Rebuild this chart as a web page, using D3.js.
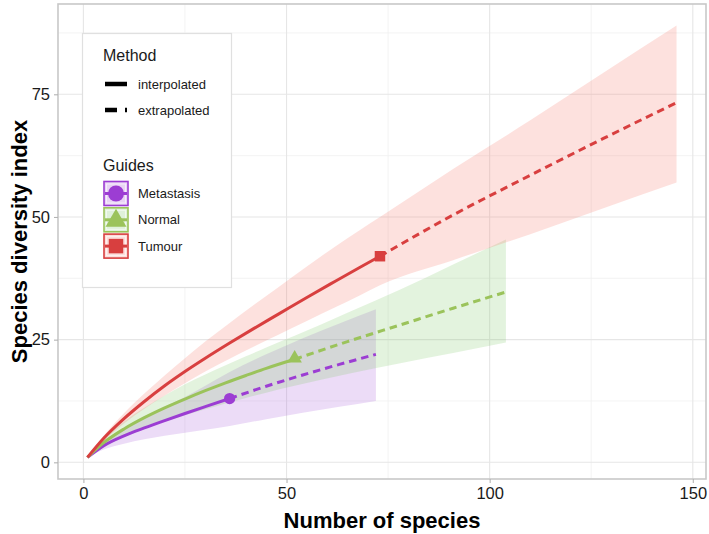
<!DOCTYPE html>
<html><head><meta charset="utf-8">
<script src="https://cdn.jsdelivr.net/npm/d3@7"></script>
<style>body{margin:0;background:#fff}svg{display:block}text{font-family:"Liberation Sans",Arial,sans-serif}</style>
</head><body><svg id="c" width="709" height="534"></svg>
<script>
// ---- data ----
const seriesNames = ["Metastasis", "Normal", "Tumour"];
const seriesColors = ["#9c3dd3", "#9bc35b", "#d83f3f"];
const ribbonColors = ["#a24fd6", "#7fc86a", "#f4776a"];
const methodNames = ["interpolated", "extrapolated"];
const xTicks = [0, 50, 100, 150];
const yTicks = [0, 25, 50, 75];

const metObs = 36;
const metM   = [1, 5, 10, 15, 20, 25, 30, 36, 45, 54, 63, 72];
const metEst = [1, 3.4, 5.4, 7.0, 8.5, 9.95, 11.35, 13.0, 15.5, 17.8, 19.95, 22.0];
const metLo  = [1, 2.6, 3.8, 4.7, 5.4, 6.05, 6.65, 7.4, 8.8, 10.1, 11.3, 12.5];
const metHi  = [1, 4.2, 7.0, 9.2, 11.3, 13.3, 15.6, 18.4, 22.0, 25.3, 28.3, 31.2];

const norObs = 52;
const norM   = [1, 5, 10, 15, 20, 25, 30, 35, 40, 45, 52, 65, 78, 91, 104];
const norEst = [1, 4.0, 6.8, 9.1, 11.1, 12.9, 14.6, 16.2, 17.7, 19.15, 21.0, 24.6, 28.0, 31.4, 34.7];
const norLo  = [1, 3.0, 5.2, 6.8, 8.3, 9.6, 10.8, 12.0, 13.1, 14.2, 15.6, 18.0, 20.2, 22.3, 24.4];
const norHi  = [1, 4.9, 8.3, 11.1, 13.6, 15.9, 17.9, 19.8, 21.6, 23.4, 25.8, 30.5, 35.2, 40.3, 45.4];

const tumObs = 73;
const tumM   = [1, 5, 10, 15, 20, 25, 30, 36, 42, 48, 55, 62, 68, 73, 91, 110, 128, 146];
const tumEst = [1, 4.9, 8.9, 12.4, 15.6, 18.5, 21.2, 24.3, 27.3, 30.2, 33.6, 36.9, 39.7, 42.0, 50.4, 58.5, 66.0, 73.3];
const tumLo  = [1, 4.4, 7.9, 10.9, 13.6, 16.1, 18.5, 21.1, 23.6, 26.0, 28.8, 31.6, 34.0, 36.1, 41.2, 46.5, 51.8, 57.0];
const tumHi  = [1, 5.4, 10.0, 14.0, 17.7, 21.2, 24.6, 28.4, 32.1, 35.7, 39.9, 44.0, 47.3, 50.0, 59.8, 69.7, 79.4, 89.0];

const series = [
  {name: seriesNames[0], color: seriesColors[0], fill: ribbonColors[0], obs: metObs, m: metM, est: metEst, lo: metLo, hi: metHi, shape: "circle"},
  {name: seriesNames[1], color: seriesColors[1], fill: ribbonColors[1], obs: norObs, m: norM, est: norEst, lo: norLo, hi: norHi, shape: "triangle"},
  {name: seriesNames[2], color: seriesColors[2], fill: ribbonColors[2], obs: tumObs, m: tumM, est: tumEst, lo: tumLo, hi: tumHi, shape: "square"}
];

// ---- layout ----
const svg = d3.select("#c");
const P = {l: 58, r: 706, t: 4, b: 479};
const x = d3.scaleLinear().domain([-6.25, 153.25]).range([P.l, P.r]);
const y = d3.scaleLinear().domain([-3.4, 93.4]).range([P.b, P.t]);

// grid
const g = svg.append("g");
const xMinor = [25, 75, 125], yMinor = [12.5, 37.5, 62.5, 87.5];
g.selectAll(".xm").data(xMinor).join("line").attr("x1", d => x(d)).attr("x2", d => x(d)).attr("y1", P.t).attr("y2", P.b).attr("stroke", "#f0f0f0").attr("stroke-width", 0.8);
g.selectAll(".ym").data(yMinor).join("line").attr("y1", d => y(d)).attr("y2", d => y(d)).attr("x1", P.l).attr("x2", P.r).attr("stroke", "#f0f0f0").attr("stroke-width", 0.8);
g.selectAll(".xg").data(xTicks).join("line").attr("x1", d => x(d)).attr("x2", d => x(d)).attr("y1", P.t).attr("y2", P.b).attr("stroke", "#e6e6e6").attr("stroke-width", 1.1);
g.selectAll(".yg").data(yTicks).join("line").attr("y1", d => y(d)).attr("y2", d => y(d)).attr("x1", P.l).attr("x2", P.r).attr("stroke", "#e6e6e6").attr("stroke-width", 1.1);

// ribbons
const area = d3.area().x(d => x(d.m)).y0(d => y(d.lo)).y1(d => y(d.hi)).curve(d3.curveMonotoneX);
series.forEach(s => {
  const pts = s.m.map((m, i) => ({m, lo: s.lo[i], hi: s.hi[i]}));
  svg.append("path").attr("d", area(pts)).attr("fill", s.fill).attr("fill-opacity", s.shape === "circle" ? 0.2 : 0.22);
});

// lines
const line = d3.line().x(d => x(d.m)).y(d => y(d.v)).curve(d3.curveMonotoneX);
series.forEach(s => {
  const pts = s.m.map((m, i) => ({m, v: s.est[i]}));
  const interp = pts.filter(p => p.m <= s.obs);
  const extrap = pts.filter(p => p.m >= s.obs);
  svg.append("path").attr("d", line(extrap)).attr("fill", "none").attr("stroke", s.color).attr("stroke-width", 3).attr("stroke-dasharray", "7.5,5");
  svg.append("path").attr("d", line(interp)).attr("fill", "none").attr("stroke", s.color).attr("stroke-width", 3);
});

function shapePath(shape, size) {
  const sym = shape === "circle" ? d3.symbolCircle : shape === "triangle" ? d3.symbolTriangle : d3.symbolSquare;
  return d3.symbol().type(sym).size(size)();
}
// observed points
series.forEach(s => {
  const i = s.m.indexOf(s.obs);
  const sz = s.shape === "circle" ? 100 : s.shape === "triangle" ? 90 : 110;
  svg.append("path").attr("d", shapePath(s.shape, sz))
    .attr("transform", `translate(${x(s.m[i])},${y(s.est[i]) + (s.shape === "triangle" ? -1 : 0)})`)
    .attr("fill", s.color);
});

// panel border
svg.append("rect").attr("x", P.l).attr("y", P.t).attr("width", P.r - P.l).attr("height", P.b - P.t)
  .attr("fill", "none").attr("stroke", "#c8c8c8").attr("stroke-width", 1.6);

// axes
const xa = svg.append("g").attr("transform", `translate(0,${P.b})`).call(d3.axisBottom(x).tickValues(xTicks).tickSize(4).tickPadding(4));
const ya = svg.append("g").attr("transform", `translate(${P.l},0)`).call(d3.axisLeft(y).tickValues(yTicks).tickSize(4).tickPadding(4));
[xa, ya].forEach(a => {
  a.select(".domain").remove();
  a.selectAll(".tick line").attr("stroke", "#b3b3b3").attr("stroke-width", 1.1);
  a.selectAll(".tick text").attr("fill", "#1a1a1a").style("font-size", "16.5px").style("font-family", "Liberation Sans, Arial, sans-serif");
});

svg.append("text").attr("x", (P.l + P.r) / 2).attr("y", 528).attr("text-anchor", "middle")
  .style("font-size", "22px").style("font-weight", "bold").text("Number of species");
svg.append("text").attr("transform", `translate(27,${(P.t + P.b) / 2}) rotate(-90)`).attr("text-anchor", "middle")
  .style("font-size", "22px").style("font-weight", "bold").text("Species diversity index");

// legend
const L = svg.append("g");
L.append("rect").attr("x", 82.5).attr("y", 33.5).attr("width", 149).attr("height", 254).attr("fill", "#fff").attr("stroke", "#e0e0e0").attr("stroke-width", 1.2);
L.append("text").attr("x", 103).attr("y", 61).style("font-size", "16px").attr("fill", "#1a1a1a").text("Method");
const dashes = ["none", "12,8"];
methodNames.forEach((mname, i) => {
  const yy = 84 + i * 26;
  L.append("line").attr("x1", 105).attr("x2", 127).attr("y1", yy).attr("y2", yy).attr("stroke", "#000").attr("stroke-width", 4.5).attr("stroke-dasharray", dashes[i]);
  L.append("text").attr("x", 138).attr("y", yy + 4.5).style("font-size", "13px").attr("fill", "#1a1a1a").text(mname);
});
L.append("text").attr("x", 103).attr("y", 171).style("font-size", "16px").attr("fill", "#1a1a1a").text("Guides");
series.forEach((s, i) => {
  const y0 = 181 + i * 26.3;
  L.append("rect").attr("x", 104).attr("y", y0 + 0.5).attr("width", 24).attr("height", 24)
    .attr("fill", s.fill).attr("fill-opacity", 0.25).attr("stroke", s.color).attr("stroke-width", 1.6);
  L.append("rect").attr("x", 106.5).attr("y", y0 + 3).attr("width", 19).attr("height", 19)
    .attr("fill", "none").attr("stroke", "#fff").attr("stroke-opacity", 0.6).attr("stroke-width", 1);
  L.append("line").attr("x1", 105).attr("x2", 127).attr("y1", y0 + 12.5).attr("y2", y0 + 12.5).attr("stroke", s.color).attr("stroke-width", 3);
  const sz = s.shape === "circle" ? 200 : s.shape === "triangle" ? 190 : 210;
  L.append("path").attr("d", shapePath(s.shape, sz)).attr("transform", `translate(116,${y0 + 12.5 + (s.shape === "triangle" ? 1 : 0)})`).attr("fill", s.color);
  L.append("text").attr("x", 138).attr("y", y0 + 17).style("font-size", "13px").attr("fill", "#1a1a1a").text(s.name);
});
</script></body></html>
